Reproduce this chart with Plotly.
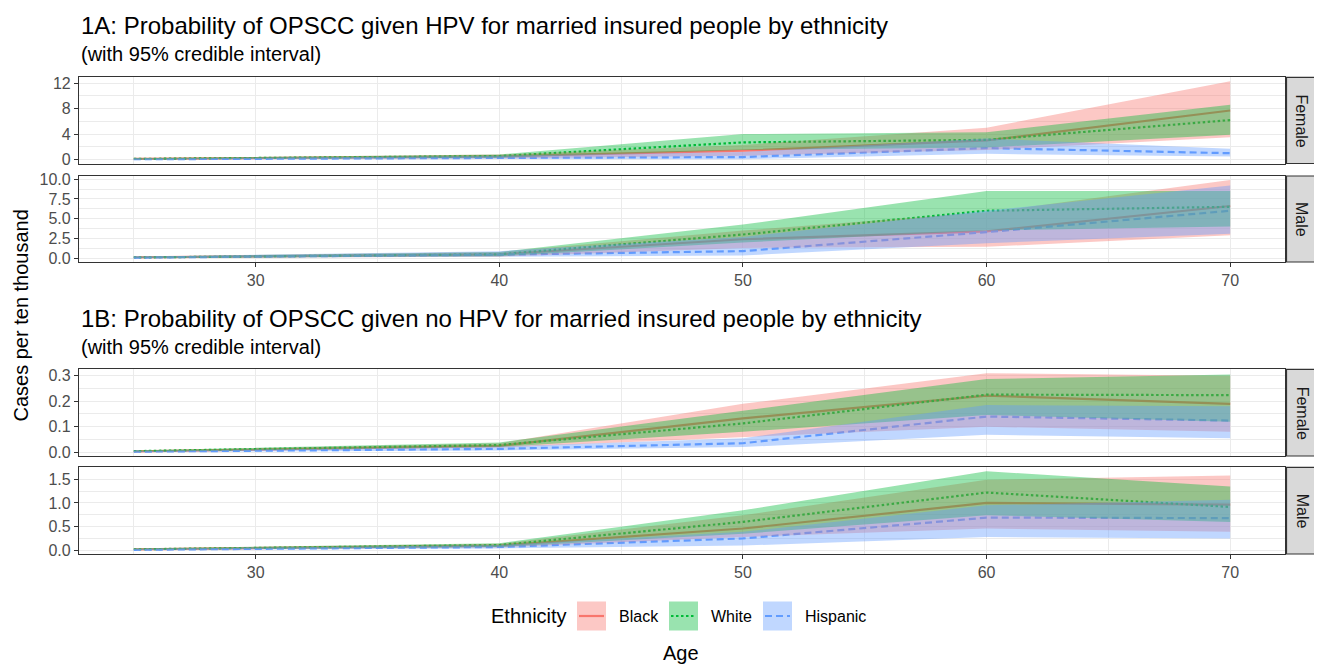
import plotly.graph_objects as go

# ---------------- data ----------------
ages = [25, 40, 50, 60, 70]
ethnicities = ["Black", "White", "Hispanic"]

# 1A Female (cases per ten thousand)
a_fem_black_mean = [0.10, 0.50, 1.40, 3.00, 7.70]
a_fem_black_lo = [0.02, 0.20, 0.60, 1.50, 3.50]
a_fem_black_hi = [0.20, 0.80, 2.30, 5.00, 12.30]
a_fem_white_mean = [0.10, 0.55, 2.70, 3.10, 6.20]
a_fem_white_lo = [0.03, 0.30, 1.50, 1.90, 3.90]
a_fem_white_hi = [0.20, 0.80, 4.00, 4.30, 8.60]
a_fem_hisp_mean = [0.05, 0.30, 0.40, 1.80, 1.00]
a_fem_hisp_lo = [0.00, 0.10, 0.05, 0.90, 0.50]
a_fem_hisp_hi = [0.15, 0.60, 1.20, 3.30, 1.70]

# 1A Male
a_mal_black_mean = [0.10, 0.50, 2.40, 3.40, 6.60]
a_mal_black_lo = [0.02, 0.20, 1.30, 1.45, 2.90]
a_mal_black_hi = [0.20, 0.80, 3.50, 5.80, 9.90]
a_mal_white_mean = [0.10, 0.50, 3.00, 6.00, 6.50]
a_mal_white_lo = [0.03, 0.25, 2.00, 3.50, 4.00]
a_mal_white_hi = [0.20, 0.80, 4.25, 8.50, 8.50]
a_mal_hisp_mean = [0.08, 0.45, 0.90, 3.30, 6.00]
a_mal_hisp_lo = [0.02, 0.20, 0.35, 1.90, 3.10]
a_mal_hisp_hi = [0.20, 0.90, 2.70, 6.00, 9.20]

# 1B Female
b_fem_black_mean = [0.003, 0.025, 0.133, 0.222, 0.190]
b_fem_black_lo = [0.001, 0.018, 0.060, 0.100, 0.080]
b_fem_black_hi = [0.006, 0.035, 0.190, 0.310, 0.300]
b_fem_white_mean = [0.004, 0.028, 0.113, 0.226, 0.224]
b_fem_white_lo = [0.002, 0.020, 0.080, 0.146, 0.120]
b_fem_white_hi = [0.007, 0.038, 0.163, 0.287, 0.305]
b_fem_hisp_mean = [0.002, 0.013, 0.035, 0.140, 0.124]
b_fem_hisp_lo = [0.0005, 0.007, 0.020, 0.068, 0.055]
b_fem_hisp_hi = [0.004, 0.022, 0.055, 0.185, 0.180]

# 1B Male
b_mal_black_mean = [0.02, 0.10, 0.46, 1.00, 0.965]
b_mal_black_lo = [0.01, 0.06, 0.28, 0.46, 0.39]
b_mal_black_hi = [0.04, 0.14, 0.74, 1.49, 1.58]
b_mal_white_mean = [0.02, 0.11, 0.60, 1.22, 0.915]
b_mal_white_lo = [0.01, 0.07, 0.35, 0.74, 0.60]
b_mal_white_hi = [0.04, 0.15, 0.845, 1.67, 1.35]
b_mal_hisp_mean = [0.01, 0.07, 0.25, 0.69, 0.68]
b_mal_hisp_lo = [0.005, 0.04, 0.10, 0.28, 0.25]
b_mal_hisp_hi = [0.03, 0.11, 0.39, 0.95, 1.07]

titles = ["1A: Probability of OPSCC given HPV for married insured people by ethnicity",
          "1B: Probability of OPSCC given no HPV for married insured people by ethnicity"]
subtitle = "(with 95% credible interval)"
strip_labels = ["Female", "Male", "Female", "Male"]
x_ticks = [30, 40, 50, 60, 70]

panels = [
    {"Black": (a_fem_black_mean, a_fem_black_lo, a_fem_black_hi),
     "White": (a_fem_white_mean, a_fem_white_lo, a_fem_white_hi),
     "Hispanic": (a_fem_hisp_mean, a_fem_hisp_lo, a_fem_hisp_hi)},
    {"Black": (a_mal_black_mean, a_mal_black_lo, a_mal_black_hi),
     "White": (a_mal_white_mean, a_mal_white_lo, a_mal_white_hi),
     "Hispanic": (a_mal_hisp_mean, a_mal_hisp_lo, a_mal_hisp_hi)},
    {"Black": (b_fem_black_mean, b_fem_black_lo, b_fem_black_hi),
     "White": (b_fem_white_mean, b_fem_white_lo, b_fem_white_hi),
     "Hispanic": (b_fem_hisp_mean, b_fem_hisp_lo, b_fem_hisp_hi)},
    {"Black": (b_mal_black_mean, b_mal_black_lo, b_mal_black_hi),
     "White": (b_mal_white_mean, b_mal_white_lo, b_mal_white_hi),
     "Hispanic": (b_mal_hisp_mean, b_mal_hisp_lo, b_mal_hisp_hi)},
]
y_dticks = [4, 2.5, 0.1, 0.5]
y_formats = ["d", ".1f", ".1f", ".1f"]

# ---------------- style ----------------
colors = {"Black": "#F8766D", "White": "#00BA38", "Hispanic": "#619CFF"}
fills = {"Black": "rgba(248,118,109,0.4)", "White": "rgba(0,186,56,0.4)",
         "Hispanic": "rgba(97,156,255,0.4)"}
dashes = {"Black": "solid", "White": "2.5px,2.5px", "Hispanic": "7px,4px"}
FONT = "Liberation Sans, Arial, sans-serif"

# the page body has an 8px margin: figure pixel = page pixel - 8
OFF = 8
W, H = 1322 - OFF, 668 - OFF
PL, PR, PT, PB = 79, 1285, 77.3, 554      # panel extents in page pixels
ML, MT = PL - OFF, round(PT - OFF)
MR, MB = W - (PR - OFF), H - (PB - OFF)
PW, PH = W - ML - MR, H - MT - MB


def px_x(px):
    return (px - OFF - ML) / PW


def px_y(py):
    return (H - MB - (py - OFF)) / PH


# panel pixel extents (top, bottom) in page pixels
panel_px = [(77.3, 163.5), (176, 262), (369.3, 456), (467.3, 554)]

fig = go.Figure()

for i, pdata in enumerate(panels):
    sfx = "" if i == 0 else str(i + 1)
    xa, ya = "x" + sfx, "y" + sfx
    for eth in ethnicities:
        mean, lo, hi = pdata[eth]
        fig.add_trace(go.Scatter(x=ages, y=mean, mode="lines", xaxis=xa, yaxis=ya,
                                 line=dict(color=colors[eth], width=2.2, dash=dashes[eth]),
                                 showlegend=False, hoverinfo="skip"))
    for eth in ethnicities:
        mean, lo, hi = pdata[eth]
        fig.add_trace(go.Scatter(x=ages + ages[::-1], y=hi + lo[::-1], mode="lines",
                                 xaxis=xa, yaxis=ya, fill="toself",
                                 fillcolor=fills[eth], line=dict(width=0),
                                 showlegend=False, hoverinfo="skip"))

xmin, xmax = min(ages), max(ages)
xr = [xmin - 0.05 * (xmax - xmin), xmax + 0.05 * (xmax - xmin)]

layout = dict(
    width=W, height=H,
    margin=dict(l=ML, r=MR, t=MT, b=MB, pad=0),
    paper_bgcolor="white", plot_bgcolor="white",
    font=dict(family=FONT, color="#000000"),
    showlegend=False,
)

for i, pdata in enumerate(panels):
    sfx = "" if i == 0 else str(i + 1)
    top, bot = panel_px[i]
    allv = []
    for eth in ethnicities:
        allv += pdata[eth][1] + pdata[eth][2]
    lo_v, hi_v = min(allv), max(allv)
    rng = hi_v - lo_v
    yr = [lo_v - 0.05 * rng, hi_v + 0.05 * rng]
    show_x = i in (1, 3)
    layout["xaxis" + sfx] = dict(
        domain=[0, 1], anchor="y" + sfx, range=xr,
        tickvals=x_ticks, showticklabels=show_x,
        ticks="outside" if show_x else "", ticklen=4, tickwidth=1.2, tickcolor="#333333",
        tickfont=dict(size=16, color="#4D4D4D", family=FONT),
        showgrid=True, gridcolor="#EBEBEB", gridwidth=1.4,
        minor=dict(tickvals=[25, 35, 45, 55, 65], showgrid=True,
                   gridcolor="#EBEBEB", gridwidth=0.7),
        showline=True, linecolor="#333333", linewidth=1.2, mirror=True,
        zeroline=False, fixedrange=True,
    )
    dt = y_dticks[i]
    layout["yaxis" + sfx] = dict(
        domain=[max(0.0, px_y(bot)), min(1.0, px_y(top))], anchor="x" + sfx, range=yr,
        tick0=0, dtick=dt, tickformat=y_formats[i],
        ticks="outside", ticklen=4, tickwidth=1.2, tickcolor="#333333",
        tickfont=dict(size=16, color="#4D4D4D", family=FONT),
        showgrid=True, gridcolor="#EBEBEB", gridwidth=1.4,
        minor=dict(tick0=0, dtick=dt / 2, showgrid=True, gridcolor="#EBEBEB", gridwidth=0.7),
        showline=True, linecolor="#333333", linewidth=1.2, mirror=True,
        zeroline=False, fixedrange=True,
    )

shapes = []
annotations = []

# facet strips
for i, (top, bot) in enumerate(panel_px):
    shapes.append(dict(type="rect", xref="paper", yref="paper",
                       x0=px_x(1286.5), x1=px_x(1317.5), y0=px_y(bot), y1=px_y(top),
                       fillcolor="#D9D9D9", line=dict(color="#333333", width=1.2), layer="above"))
    annotations.append(dict(text=strip_labels[i], xref="paper", yref="paper",
                            x=px_x(1302), y=px_y((top + bot) / 2), showarrow=False,
                            textangle=90, font=dict(size=16, color="#1A1A1A", family=FONT),
                            xanchor="center", yanchor="middle"))

# titles
for t, (ty, sy) in zip(titles, [(25, 54), (318, 347)]):
    annotations.append(dict(text=t, xref="paper", yref="paper", x=0, y=px_y(ty),
                            xanchor="left", yanchor="middle", showarrow=False,
                            font=dict(size=24, color="#000000", family=FONT)))
    annotations.append(dict(text=subtitle, xref="paper", yref="paper", x=0, y=px_y(sy),
                            xanchor="left", yanchor="middle", showarrow=False,
                            font=dict(size=20, color="#000000", family=FONT)))

# axis titles
annotations.append(dict(text="Cases per ten thousand", xref="paper", yref="paper",
                        x=px_x(20), y=px_y(315.5), textangle=-90, showarrow=False,
                        xanchor="center", yanchor="middle",
                        font=dict(size=20, color="#000000", family=FONT)))
annotations.append(dict(text="Age", xref="paper", yref="paper",
                        x=px_x(681), y=px_y(653), showarrow=False,
                        xanchor="center", yanchor="middle",
                        font=dict(size=20, color="#000000", family=FONT)))

# legend (manual, ggplot style)
leg_y = 616
annotations.append(dict(text="Ethnicity", xref="paper", yref="paper",
                        x=px_x(489), y=px_y(leg_y), showarrow=False,
                        xanchor="left", yanchor="middle",
                        font=dict(size=20, color="#000000", family=FONT)))
key_x = {"Black": 577, "White": 669, "Hispanic": 763}
for eth in ethnicities:
    kx = key_x[eth]
    shapes.append(dict(type="rect", xref="paper", yref="paper",
                       x0=px_x(kx), x1=px_x(kx + 29), y0=px_y(leg_y + 14.5), y1=px_y(leg_y - 14.5),
                       fillcolor=fills[eth], line=dict(width=0)))
    shapes.append(dict(type="line", xref="paper", yref="paper",
                       x0=px_x(kx + 2), x1=px_x(kx + 27), y0=px_y(leg_y), y1=px_y(leg_y),
                       line=dict(color=colors[eth], width=2.2, dash=dashes[eth])))
    annotations.append(dict(text=eth, xref="paper", yref="paper",
                            x=px_x(kx + 40), y=px_y(leg_y), showarrow=False,
                            xanchor="left", yanchor="middle",
                            font=dict(size=16, color="#000000", family=FONT)))

layout["shapes"] = shapes
layout["annotations"] = annotations
fig.update_layout(**layout)
fig.write_html("out.html")
